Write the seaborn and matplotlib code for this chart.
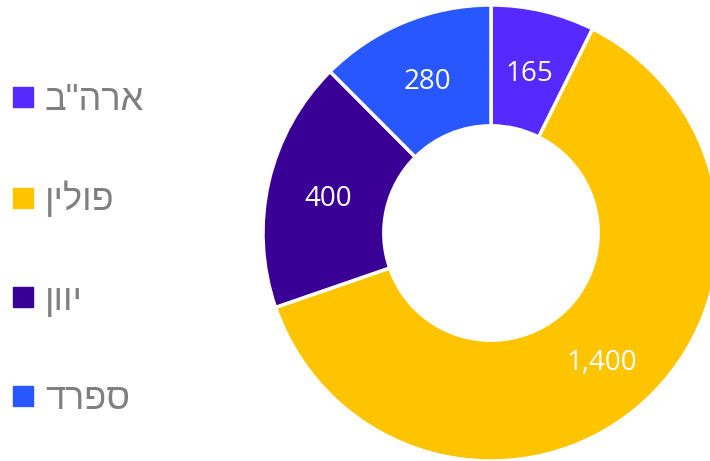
import matplotlib
matplotlib.use("Agg")
import matplotlib.pyplot as plt
import matplotlib.transforms as mtransforms
from matplotlib.lines import Line2D
import seaborn as sns

# Data
countries = ['ארה"ב', "פולין", "יוון", "ספרד"]
values = [165, 1400, 400, 280]
colors = ["#5629FF", "#FFC400", "#3A0096", "#2857FF"]

sns.set_theme(style="white")
plt.rcParams["font.family"] = ["Liberation Sans", "DejaVu Sans"]

W, H = 710, 461
fig = plt.figure(figsize=(W / 100, H / 100), dpi=100)

# Donut axes, square in pixels
cx, cy, R = 491, 233, 228
ax = fig.add_axes([(cx - R) / W, (H - cy - R) / H, 2 * R / W, 2 * R / H])

total = sum(values)
palette = sns.color_palette(colors)


def value_label(pct):
    v = round(pct * total / 100)
    return f"{v:,}"


wedges, _, autotexts = ax.pie(
    values,
    colors=palette,
    startangle=90,
    counterclock=False,
    autopct=value_label,
    pctdistance=0.735,
    wedgeprops=dict(width=0.53, edgecolor="white", linewidth=2.5),
    textprops=dict(color="white", fontsize=20, family=["Open Sans", "DejaVu Sans"]),
)
# nudge the value labels slightly down to sit at the ring's visual middle
shift = mtransforms.ScaledTranslation(0, -4 / 100, fig.dpi_scale_trans)
for t in autotexts:
    t.set_transform(t.get_transform() + shift)

ax.set_xlim(-1, 1)
ax.set_ylim(-1, 1)
ax.set_aspect("equal")
ax.axis("off")

# Legend on the left (Hebrew drawn in visual order)
handles = [
    Line2D([0], [0], marker="s", linestyle="none", markersize=14,
           markerfacecolor=c, markeredgecolor=c)
    for c in colors
]
leg = fig.legend(
    handles,
    [name[::-1] for name in countries],
    loc="upper left",
    bbox_to_anchor=(0.0, 1 - 70 / H),
    frameon=False,
    fontsize=26,
    labelcolor="#7F7F7F",
    handlelength=0.55,
    handletextpad=0.34,
    labelspacing=1.78,
    borderpad=0.35,
    borderaxespad=0.0,
)

fig.savefig("out.png", dpi=100)
